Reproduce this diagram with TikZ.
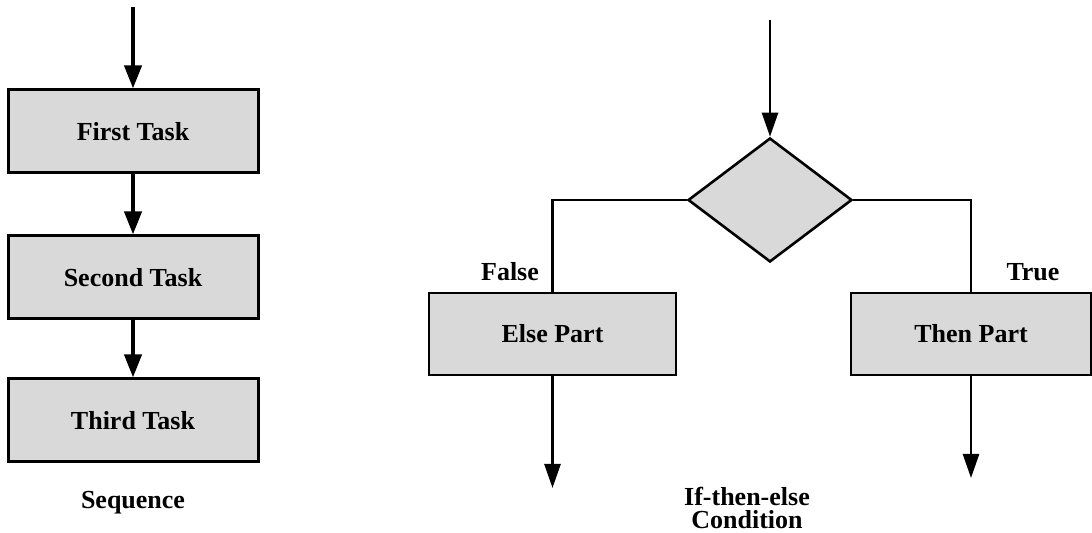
\documentclass[tikz,border=0pt]{standalone}
\usepackage{fontspec}
\setmainfont{Liberation Serif}
\usetikzlibrary{arrows.meta,shapes.geometric}
\definecolor{boxgray}{HTML}{D9D9D9}
\begin{document}
\begin{tikzpicture}[x=0.5pt,y=-0.5pt,
  txt/.style={font=\fontsize{13}{11.5}\selectfont\bfseries},
  taskbox/.style={draw=black,fill=boxgray,line width=1.5pt,rectangle,
    minimum width=125pt,minimum height=41.5pt,inner sep=0pt,txt},
  partbox/.style={draw=black,fill=boxgray,line width=1.3pt,rectangle,
    minimum height=41pt,inner sep=0pt,txt},
  decision/.style={draw=black,fill=boxgray,line width=1.3pt,diamond,
    minimum width=82pt,minimum height=62pt,inner sep=0pt},
  seqarrow/.style={line width=2pt,-{Triangle[length=11.5pt,width=8.5pt]}},
  branch/.style={line width=1.3pt},
  brancharrow/.style={line width=1.3pt,-{Triangle[length=12pt,width=8pt]}},
  lbl/.style={txt,inner sep=0pt}]
\useasboundingbox (0,0) rectangle (1092,533);

% Sequence
\coordinate (seqin) at (133,7);
\node[taskbox] (t1) at (133,131.5) {First Task};
\node[taskbox] (t2) at (133,277.5) {Second Task};
\node[taskbox] (t3) at (133,420.5) {Third Task};
\node[lbl] (seq) at (133,503) {Sequence};
\draw[seqarrow] (seqin) -- (t1.north);
\draw[seqarrow] (t1.south) -- (t2.north);
\draw[seqarrow] (t2.south) -- (t3.north);

% If-then-else
\coordinate (ifin) at (770,20);
\node[decision] (cond) at (770,200) {};
\node[partbox,minimum width=123.5pt] (else) at (552.5,334) {Else Part};
\node[partbox,minimum width=120pt] (then) at (971,334) {Then Part};
\coordinate (elseout) at (552.5,488);
\coordinate (thenout) at (971,478);
\node[lbl] (false) at (510,272) {False};
\node[lbl] (true) at (1033,272) {True};
\node[lbl,align=center] (ite) at (747,508) {If-then-else\\Condition};
\draw[brancharrow] (ifin) -- (cond.north);
\draw[branch] (cond.west) -| (else.north);
\draw[branch] (cond.east) -| (then.north);
\draw[brancharrow] (else.south) -- (elseout);
\draw[brancharrow] (then.south) -- (thenout);
\end{tikzpicture}
\end{document}
